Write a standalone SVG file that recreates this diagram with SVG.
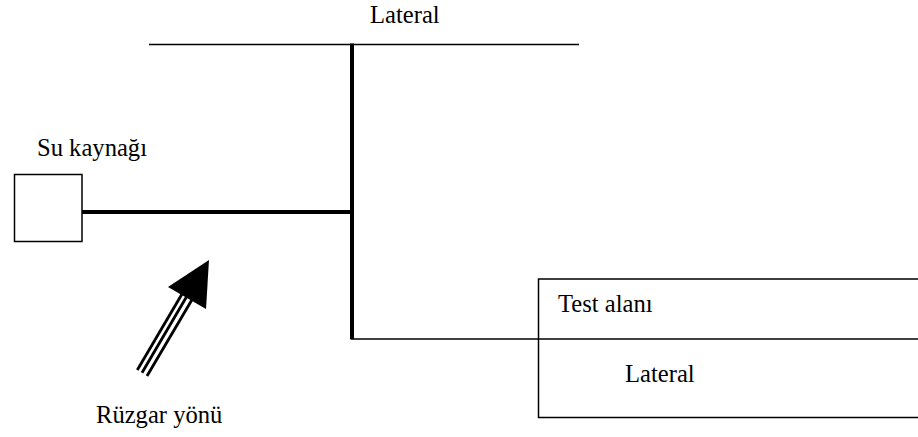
<svg xmlns="http://www.w3.org/2000/svg" width="918" height="437" viewBox="0 0 918 437">
<style>
text{font-family:"Liberation Serif","Times New Roman",serif;font-size:24.6px;fill:#000}
.thin{stroke:#000;stroke-width:1.5;fill:none}
.thick{stroke:#000;stroke-width:4;fill:none}
.shaft{stroke:#000;stroke-width:2.8;fill:none}
</style>
<rect width="918" height="437" fill="#fff"/>
<g id="connectors">
<line class="thin" x1="149" y1="44.5" x2="579" y2="44.5"/>
<line class="thick" x1="352" y1="43.5" x2="352" y2="339"/>
<line class="thick" x1="82" y1="212" x2="352" y2="212"/>
<line class="thin" x1="350.5" y1="339" x2="920" y2="339"/>
</g>
<g id="lateral-top"><text x="370" y="23">Lateral</text></g>
<g id="su-kaynagi">
<rect class="thin" x="14.5" y="174.5" width="67.5" height="67"/>
<text x="37" y="156">Su kaynağı</text>
</g>
<g id="test-alani">
<rect class="thin" x="538.5" y="279" width="390" height="138.5"/>
<text x="558" y="312">Test alanı</text>
<text x="625" y="382">Lateral</text>
</g>
<g id="ruzgar">
<line class="shaft" x1="137.3" y1="370" x2="182" y2="294"/>
<line class="shaft" x1="142" y1="372.7" x2="187" y2="296"/>
<line class="shaft" x1="147" y1="376" x2="193" y2="298"/>
<polygon points="209,260 168,287 206,309" fill="#000"/>
<text x="96" y="423">Rüzgar yönü</text>
</g>
</svg>
